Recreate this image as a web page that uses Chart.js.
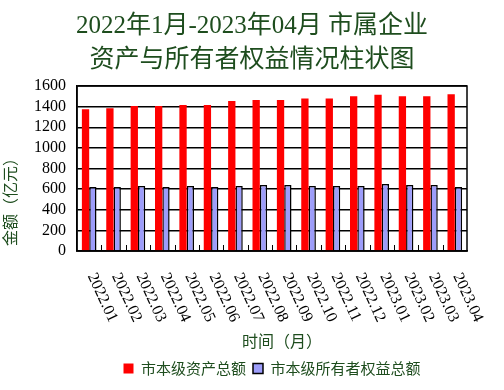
<!DOCTYPE html>
<html>
<head>
<meta charset="utf-8">
<script src="https://cdn.jsdelivr.net/npm/chart.js@4.4.0/dist/chart.umd.min.js"></script>
<style>
  html, body { margin: 0; padding: 0; background: #fff; }
  #wrap { width: 504px; height: 390px; }
</style>
</head>
<body>
<div id="wrap"><canvas id="chart1" width="504" height="390"></canvas></div>
<script>
// Datos
const months = [
  "2022.01", "2022.02", "2022.03", "2022.04", "2022.05", "2022.06",
  "2022.07", "2022.08", "2022.09", "2022.10", "2022.11", "2022.12",
  "2023.01", "2023.02", "2023.03", "2023.04",
];
const totalAssets = [1375, 1385, 1405, 1405, 1415, 1415, 1455, 1465, 1465, 1480, 1480, 1500, 1515, 1500, 1500, 1520];
const ownersEquity = [620, 620, 630, 620, 630, 620, 630, 640, 640, 630, 630, 630, 650, 640, 640, 620];
const yTicks = [0, 200, 400, 600, 800, 1000, 1200, 1400, 1600];

const titleLines = ["2022年1月-2023年04月 市属企业", "资产与所有者权益情况柱状图"];
const yTitle = "金额（亿元）";
const xTitle = "时间（月）";
const green = "#1e4d1e";
const serif = "'Liberation Serif', 'Noto Sans CJK SC', serif";
const sans = "'Noto Sans CJK SC', sans-serif";

// Etiquetas del eje X giradas hacia abajo + marcas internas + marco + títulos de ejes
const customDraw = {
  id: "customDraw",
  afterDraw(chart) {
    const ctx = chart.ctx;
    const area = chart.chartArea;
    const x = chart.scales.x;

    ctx.save();
    ctx.strokeStyle = "#000";
    ctx.lineWidth = 1.5;
    ctx.strokeRect(area.left, area.top, area.right - area.left, area.bottom - area.top);

    // marcas entre categorías
    const step = (area.right - area.left) / months.length;
    ctx.lineWidth = 1;
    for (let i = 1; i < months.length; i++) {
      const px = Math.round(area.left + step * i) + 0.5;
      ctx.beginPath();
      ctx.moveTo(px, area.bottom);
      ctx.lineTo(px, area.bottom - 6);
      ctx.stroke();
    }

    ctx.fillStyle = "#000";
    ctx.font = "16px " + serif;
    ctx.textAlign = "left";
    ctx.textBaseline = "middle";
    months.forEach((m, i) => {
      const px = x.getPixelForValue(i);
      ctx.save();
      ctx.translate(px + 2, area.bottom + 23);
      ctx.rotate((65 * Math.PI) / 180);
      ctx.fillText(m, 0, 0);
      ctx.restore();
    });

    // títulos de ejes
    ctx.fillStyle = green;
    ctx.font = "16px " + sans;
    ctx.textAlign = "center";
    ctx.textBaseline = "middle";
    ctx.fillText(xTitle, 282, 341);

    ctx.save();
    ctx.translate(10, 198);
    ctx.rotate(-Math.PI / 2);
    ctx.fillText(yTitle, 0, 0);
    ctx.restore();

    ctx.restore();
  },
};

var ctx1 = document.getElementById("chart1").getContext("2d");
var chart1 = new Chart(ctx1, {
  type: "bar",
  data: {
    labels: months,
    datasets: [
      {
        label: "市本级资产总额",
        data: totalAssets,
        backgroundColor: "#ff0000",
        borderWidth: 0,
        categoryPercentage: 0.6,
        barPercentage: 1.0,
      },
      {
        label: "市本级所有者权益总额",
        data: ownersEquity,
        backgroundColor: "#9d9dfa",
        borderColor: "#000",
        borderWidth: 1.5,
        categoryPercentage: 0.6,
        barPercentage: 1.0,
      },
    ],
  },
  options: {
    responsive: false,
    animation: false,
    layout: { padding: { left: 0, right: 0, top: 0, bottom: 4 } },
    plugins: {
      title: {
        display: true,
        text: titleLines,
        color: green,
        font: { family: serif, size: 25, weight: "normal", lineHeight: 1.35 },
        padding: { top: 10, bottom: 8.5 },
      },
      legend: {
        display: true,
        position: "bottom",
        fullSize: false,
        labels: {
          color: green,
          font: { family: sans, size: 15 },
          boxWidth: 10,
          boxHeight: 10,
          padding: 7,
        },
      },
      tooltip: { enabled: false },
    },
    scales: {
      y: {
        min: 0,
        max: 1600,
        afterBuildTicks: (scale) => {
          scale.ticks = yTicks.map((v) => ({ value: v }));
        },
        afterFit: (scale) => {
          scale.width = 77;
        },
        ticks: {
          color: "#000",
          padding: 11,
          autoSkip: false,
          font: { family: serif, size: 16 },
          callback: (v) => String(v),
        },
        grid: { color: "#000", lineWidth: 1.5, drawTicks: false },
        border: { color: "#000", width: 1.5 },
      },
      // eje vacío a la derecha solo para reservar el margen
      yRight: {
        position: "right",
        min: 0,
        max: 1600,
        ticks: { display: false },
        grid: { display: false, drawTicks: false },
        border: { display: false },
        afterFit: (scale) => {
          scale.width = 37;
        },
      },
      x: {
        ticks: { display: false },
        grid: { display: false },
        border: { color: "#000", width: 1.5 },
        afterFit: (scale) => {
          scale.height = 103;
        },
      },
    },
  },
  plugins: [customDraw],
});
</script>
</body>
</html>
